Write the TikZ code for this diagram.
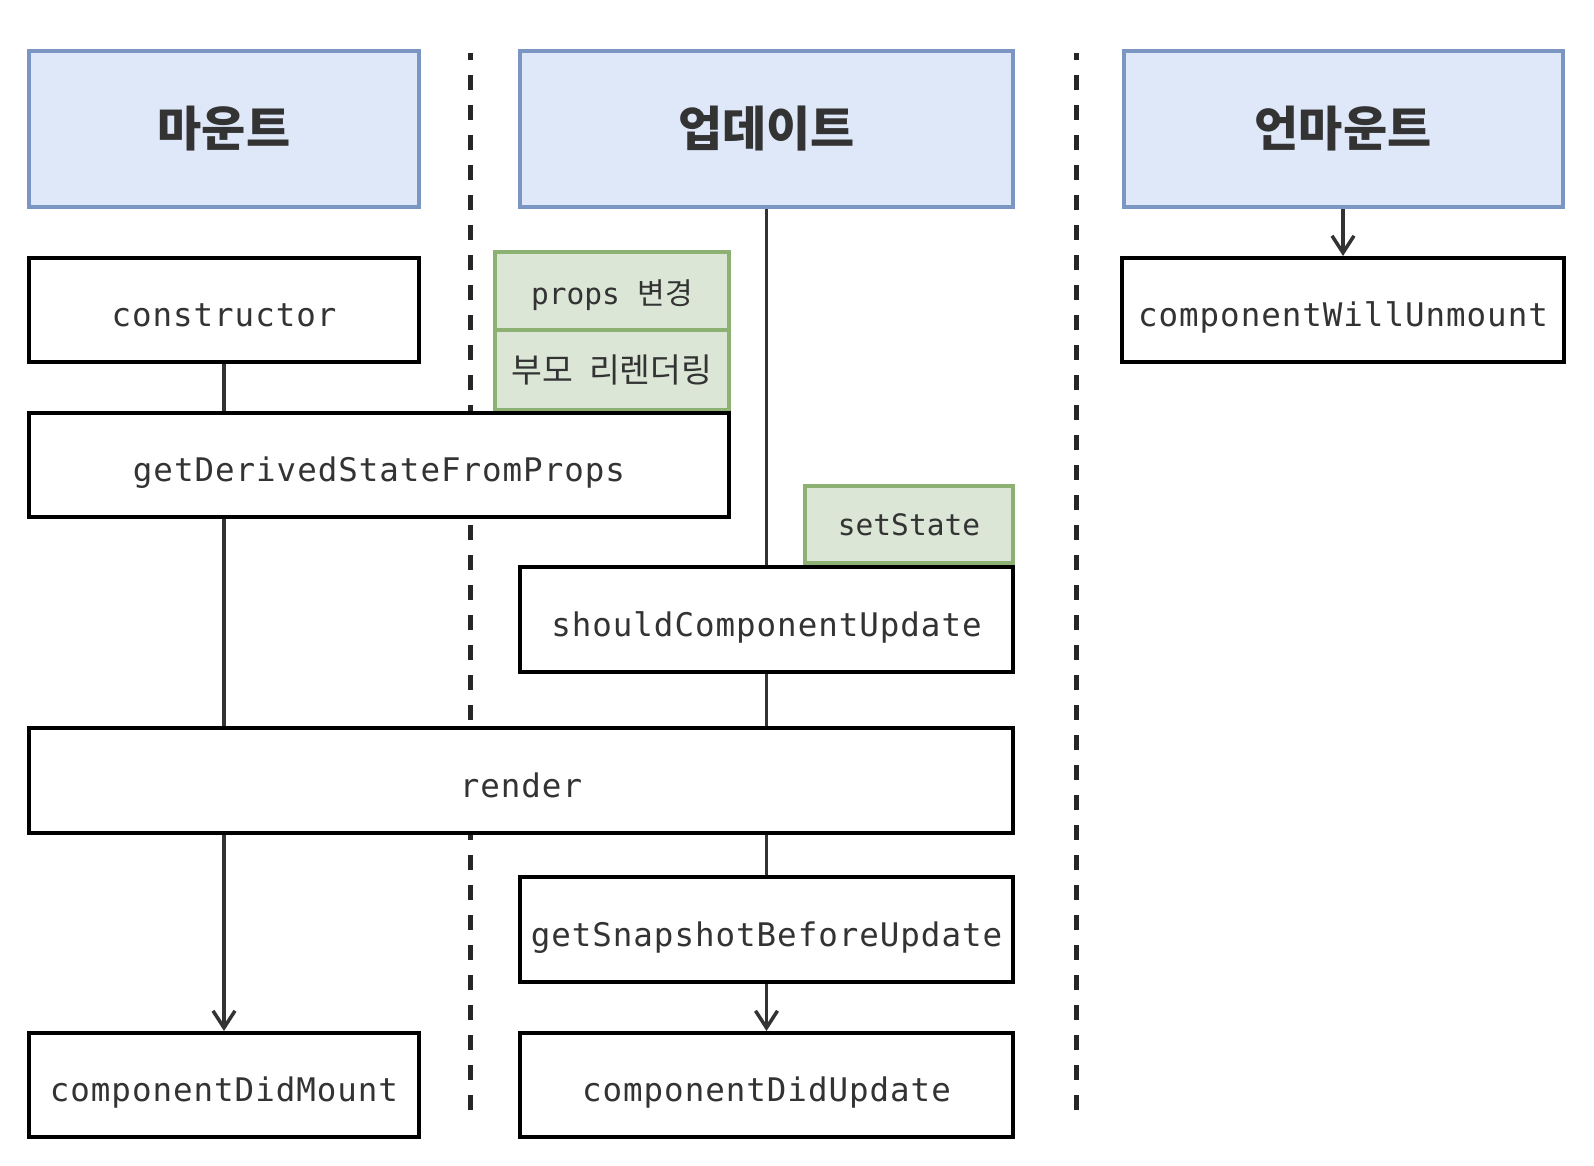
\documentclass[tikz,border=0pt]{standalone}
\usepackage{fontspec}
\setmainfont{DejaVu Sans}
\newfontfamily\monof[LetterSpace=3]{DejaVu Sans Mono}
\newfontfamily\monog{DejaVu Sans Mono}
\newfontfamily\krf{Noto Sans CJK KR}
\usetikzlibrary{arrows.meta}
\definecolor{hdrfill}{HTML}{DFE8F8}
\definecolor{hdrline}{HTML}{7C96C4}
\definecolor{grnfill}{HTML}{DBE6D6}
\definecolor{grnline}{HTML}{8DB172}
\definecolor{txt}{HTML}{333333}
\definecolor{conn}{HTML}{333333}
\tikzset{
  hdr/.style={draw=hdrline, fill=hdrfill, line width=4pt, inner sep=0pt, text=txt,
    minimum height=156pt, font=\krf\bfseries\fontsize{48}{52}\selectfont},
  fn/.style={draw=black, fill=white, line width=4pt, inner sep=0pt, text=txt,
    minimum height=104pt, text height=33pt, text depth=0pt,
    font=\monof\fontsize{32.5}{36}\selectfont},
  grn/.style={draw=grnline, fill=grnfill, line width=4pt, inner sep=0pt, text=txt,
    font=\monog\fontsize{29.5}{32}\selectfont},
  link/.style={draw=conn, line width=3.5pt},
  arr/.style={link, -{Straight Barb[length=17pt,width=22pt,line width=3.5pt]}},
  sep/.style={draw=black!85, line width=5pt, dash pattern=on 15pt off 15pt, dash phase=8pt}
}
\begin{document}
\begin{tikzpicture}[x=1pt,y=-1pt]
\useasboundingbox[fill=white] (0,0) rectangle (1594,1166);
% separators
\coordinate (s1a) at (470,53);
\coordinate (s1b) at (470,1110);
\coordinate (s2a) at (1076,53);
\coordinate (s2b) at (1076,1110);
\draw[sep] (s1a) -- (s1b);
\draw[sep] (s2a) -- (s2b);
% headers
\node[hdr, minimum width=390pt] (mount) at (224,129) {마운트};
\node[hdr, minimum width=493pt] (update) at (766.5,129) {업데이트};
\node[hdr, minimum width=439pt] (unmount) at (1343,129) {언마운트};
% mount column
\node[fn, minimum width=390pt] (ctor) at (224,310) {constructor};
\node[grn, minimum width=234pt, minimum height=78pt, text height=26pt, text depth=0pt] (props) at (612,291) {props {\krf\fontsize{30}{34}\selectfont 변경}};
\node[grn, minimum width=234pt, minimum height=80pt] (parent) at (612,370) {\krf\fontsize{33.5}{36}\selectfont 부모\hspace{16pt}리렌더링};
\node[fn, minimum width=700pt] (gdsfp) at (379,465) {getDerivedStateFromProps};
\node[grn, minimum width=208pt, minimum height=77pt] (setstate) at (909,524.5) {setState};
\node[fn, minimum width=493pt, minimum height=105pt] (scu) at (766.5,619.5) {shouldComponentUpdate};
\node[fn, minimum width=984pt, minimum height=105pt] (render) at (521,780.5) {render};
\node[fn, minimum width=493pt, minimum height=105pt] (gsbu) at (766.5,929.5) {getSnapshotBeforeUpdate};
\node[fn, minimum width=390pt] (cdm) at (224,1085) {componentDidMount};
\node[fn, minimum width=493pt] (cdu) at (766.5,1085) {componentDidUpdate};
\node[fn, minimum width=442pt] (cwu) at (1343,310) {componentWillUnmount};
% connectors
\draw[link] (ctor.south) -- (ctor.south |- gdsfp.north);
\draw[link] (gdsfp.south -| ctor) -- (render.north -| ctor);
\draw[arr] (render.south -| cdm) -- (cdm.north);
\draw[link] (update.south) -- (scu.north);
\draw[link] (scu.south) -- (render.north -| scu);
\draw[link] (render.south -| gsbu) -- (gsbu.north);
\draw[arr] (gsbu.south) -- (cdu.north);
\draw[arr] (unmount.south) -- (cwu.north);
\end{tikzpicture}
\end{document}
